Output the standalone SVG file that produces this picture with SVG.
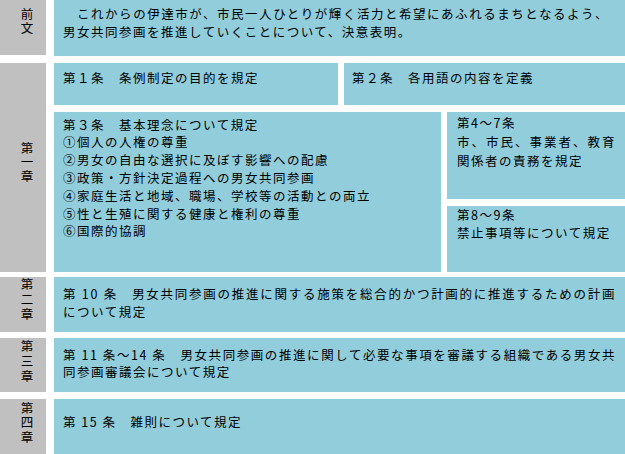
<svg xmlns="http://www.w3.org/2000/svg" width="625" height="454" viewBox="0 0 625 454">
<style>
.lab{fill:#c0c0c0}
.box{fill:#92cddc}
text{font-family:"Noto Sans CJK JP","Noto Sans CJK SC",sans-serif;fill:#000}
.t{font-size:12.5px;letter-spacing:1.5px}
.v{font-size:12.5px;writing-mode:vertical-rl;text-orientation:upright;letter-spacing:1.5px}
</style>
<rect width="625" height="454" fill="#ffffff"/>
<g id="connectors"/>
<g id="label-zenbun">
<rect class="lab" x="0" y="0" width="46" height="55"/>
<text class="v" x="27" y="7.5">前文</text>
</g>
<g id="node-zenbun">
<rect class="box" x="54" y="0" width="571" height="56"/>
<text class="t" x="63" y="19" textLength="546" lengthAdjust="spacing">　これからの伊達市が、市民一人ひとりが輝く活力と希望にあふれるまちとなるよう、</text>
<text class="t" x="63" y="37">男女共同参画を推進していくことについて、決意表明。</text>
</g>
<g id="label-ch1">
<rect class="lab" x="0" y="63" width="46" height="209"/>
<text class="v" x="27" y="141.5">第一章</text>
</g>
<g id="node-art1">
<rect class="box" x="54" y="63" width="284" height="42"/>
<text class="t" x="63" y="82.5">第１条　条例制定の目的を規定</text>
</g>
<g id="node-art2">
<rect class="box" x="344" y="63" width="281" height="42"/>
<text class="t" x="352" y="82.5">第２条　各用語の内容を定義</text>
</g>
<g id="node-art3">
<rect class="box" x="54" y="112" width="387" height="160"/>
<text class="t" x="63" y="129.5">第３条　基本理念について規定</text>
<text class="t" x="63" y="147.3">①個人の人権の尊重</text>
<text class="t" x="63" y="165.1">②男女の自由な選択に及ぼす影響への配慮</text>
<text class="t" x="63" y="182.9">③政策・方針決定過程への男女共同参画</text>
<text class="t" x="63" y="200.7">④家庭生活と地域、職場、学校等の活動との両立</text>
<text class="t" x="63" y="218.5">⑤性と生殖に関する健康と権利の尊重</text>
<text class="t" x="63" y="236.3">⑥国際的協調</text>
</g>
<g id="node-art4-7">
<rect class="box" x="447" y="112" width="178" height="87"/>
<text class="t" x="457" y="127.5">第4～7条</text>
<text class="t" x="457" y="147" textLength="159" lengthAdjust="spacing">市、市民、事業者、教育</text>
<text class="t" x="457" y="166">関係者の責務を規定</text>
</g>
<g id="node-art8-9">
<rect class="box" x="447" y="206" width="178" height="66"/>
<text class="t" x="457" y="219.5">第8～9条</text>
<text class="t" x="457" y="237.5">禁止事項等について規定</text>
</g>
<g id="label-ch2">
<rect class="lab" x="0" y="277" width="46" height="55"/>
<text class="v" x="27" y="277.5" style="letter-spacing:2.5px">第二章</text>
</g>
<g id="node-art10">
<rect class="box" x="54" y="277" width="571" height="55"/>
<text class="t" x="63" y="298.5" textLength="553" lengthAdjust="spacing" xml:space="preserve">第 10 条　男女共同参画の推進に関する施策を総合的かつ計画的に推進するための計画</text>
<text class="t" x="63" y="316.5">について規定</text>
</g>
<g id="label-ch3">
<rect class="lab" x="0" y="338" width="46" height="54"/>
<text class="v" x="27" y="339.5" style="letter-spacing:2.5px">第三章</text>
</g>
<g id="node-art11-14">
<rect class="box" x="54" y="338" width="571" height="54"/>
<text class="t" x="63" y="359.5" textLength="553" lengthAdjust="spacing" xml:space="preserve">第 11 条～14 条　男女共同参画の推進に関して必要な事項を審議する組織である男女共</text>
<text class="t" x="63" y="377">同参画審議会について規定</text>
</g>
<g id="label-ch4">
<rect class="lab" x="0" y="399" width="46" height="55"/>
<text class="v" x="27" y="401.5" style="letter-spacing:2px">第四章</text>
</g>
<g id="node-art15">
<rect class="box" x="54" y="399" width="571" height="55"/>
<text class="t" x="63" y="426.5" xml:space="preserve">第 15 条　雑則について規定</text>
</g>
</svg>
